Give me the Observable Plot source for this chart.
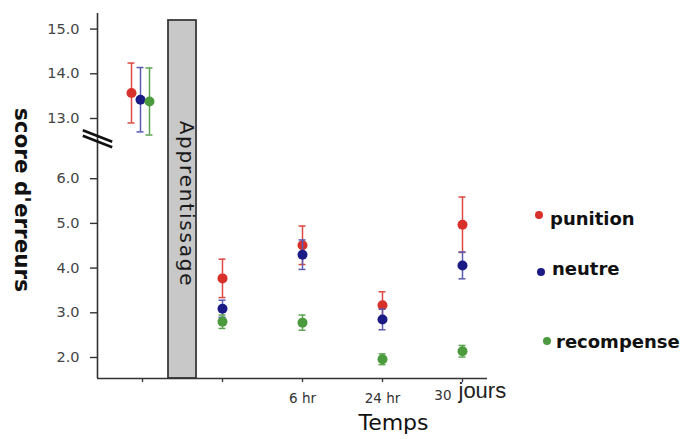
<!DOCTYPE html>
<html><head><meta charset="utf-8">
<script src="https://cdn.jsdelivr.net/npm/d3@7"></script>
<script src="https://cdn.jsdelivr.net/npm/@observablehq/plot@0.6"></script>
<style>
body{margin:0;background:#fff;}
#wrap{position:relative;width:699px;height:439px;overflow:hidden;}
#wrap svg{position:absolute;left:0;top:0;}
.lt{position:absolute;font:bold 18px "DejaVu Sans";line-height:18px;color:#111;white-space:nowrap;}
.ld{position:absolute;width:8px;height:8px;border-radius:50%;}
</style></head><body><div id="wrap"></div>
<script>
// ---- data ----
const groups = ["avant", "0 hr", "6 hr", "24 hr", "30 jours"];
const xTickLabels = ["", "", "6 hr", "24 hr", "30 jours"];
const seriesNames = ["punition", "neutre", "recompense"];
const punition = [13.57, 3.77, 4.51, 3.17, 4.97];
const punitionErr = [0.67, 0.43, 0.43, 0.30, 0.62];
const neutre = [13.42, 3.09, 4.30, 2.85, 4.06];
const neutreErr = [0.72, 0.19, 0.33, 0.23, 0.30];
const recompense = [13.38, 2.80, 2.78, 1.96, 2.14];
const recompenseErr = [0.75, 0.15, 0.17, 0.12, 0.13];
const yTicks = [2, 3, 4, 5, 6, 13, 14, 15];
const phaseLabel = "Apprentissage";
const yLabel = "score d'erreurs";
const xLabel = "Temps";
const colors = ["#d8302a", "#1b1b86", "#4b9a3e"];
const barColors = ["#dc4a42", "#5a5ab0", "#5da552"];

// broken axis: values above the break are shifted down
const breakShift = 5.653;
const disp = v => v >= 10 ? v - breakShift : v;
const undisp = d => d > 7 ? d + breakShift : d;

const values = [punition, neutre, recompense];
const errs = [punitionErr, neutreErr, recompenseErr];
const rows = seriesNames.map((s, k) => groups.map((g, i) => ({
  serie: s, k, gi: i, v: values[k][i], err: errs[k][i],
  y: disp(values[k][i]), lo: disp(values[k][i] - errs[k][i]), hi: disp(values[k][i] + errs[k][i])
})));

const xDomain = [-0.5625, 4.3125];
const yDomain = [1.53, 9.696];
const dodge = [-11, -2, 7];

const seriesMarks = [];
rows.forEach((rs, k) => {
  const parts = [[rs.filter(d => d.gi === 0), dodge[k]], [rs.filter(d => d.gi > 0), 0]];
  for (const [data, dx] of parts) {
    seriesMarks.push(
      Plot.ruleX(data, {x: "gi", y1: "lo", y2: "hi", stroke: barColors[k], strokeWidth: 1.5, dx}),
      Plot.ruleY(data, {y: "hi", x1: "gi", x2: "gi", insetLeft: -3.5, insetRight: -3.5, stroke: barColors[k], strokeWidth: 1.5, dx}),
      Plot.ruleY(data, {y: "lo", x1: "gi", x2: "gi", insetLeft: -3.5, insetRight: -3.5, stroke: barColors[k], strokeWidth: 1.5, dx}),
      Plot.dot(data, {x: "gi", y: "y", r: 5, fill: colors[k], stroke: "none", dx})
    );
  }
});

// break symbol "//" on the y axis
const breakY = 6.894;
const breakMarks = [-2.8, 2.8].map(off => Plot.link([breakY], {
  x1: xDomain[0] - 0.184, x2: xDomain[0] + 0.184, y1: d => d + 0.129, y2: d => d - 0.129,
  dy: off, stroke: "#111", strokeWidth: 2.6
}));

const plot = Plot.plot({
  width: 699, height: 439,
  marginLeft: 97, marginRight: 212, marginTop: 13, marginBottom: 61,
  style: {fontFamily: "DejaVu Sans", background: "white", overflow: "visible"},
  x: {domain: xDomain},
  y: {domain: yDomain},
  marks: [
    Plot.rect([phaseLabel], {x1: 0, x2: 1, y1: yDomain[0], y2: yDomain[1], insetLeft: 26, insetRight: 26, insetTop: 7,
      fill: "#c8c8c8", stroke: "#3a3a3a", strokeWidth: 1.8}),
    Plot.text([phaseLabel], {x: 0.5, frameAnchor: "middle", rotate: 90, dx: 4, dy: 8, fontSize: 20, fill: "#1a1a1a"}),
    Plot.ruleX([xDomain[0]], {stroke: "#333", strokeWidth: 1.6}),
    Plot.ruleY([yDomain[0]], {stroke: "#333", strokeWidth: 1.6}),
    Plot.axisY({ticks: yTicks.map(disp), tickFormat: d => undisp(d).toFixed(1), tickSize: 7, tickPadding: 11,
      fontSize: 14.5, fill: "#444", stroke: "#333", strokeWidth: 1.4, label: null}),
    Plot.axisX({ticks: [0, 1, 2, 3, 4], tickFormat: i => i === 4 ? "" : xTickLabels[i], tickSize: 4, tickPadding: 11,
      fontSize: 13.5, fill: "#333", stroke: "#333", strokeWidth: 1.3, label: null}),
    Plot.text([xTickLabels[4]], {x: 4, frameAnchor: "bottom", text: d => d.split(" ")[0], textAnchor: "end", dx: -11, dy: 21,
      fontSize: 13.5, fill: "#333"}),
    Plot.text([xTickLabels[4]], {x: 4, frameAnchor: "bottom", text: d => d.split(" ")[1], textAnchor: "start", dx: -4, dy: 19,
      fontSize: 22, fontFamily: "Liberation Sans", fill: "#222"}),
    ...breakMarks,
    ...seriesMarks,
    Plot.text([xLabel], {frameAnchor: "bottom", dx: 101, dy: 51, fontSize: 22, fill: "#111"}),
    Plot.text([yLabel], {frameAnchor: "left", textAnchor: "middle", rotate: 90, dx: -76, dy: 4, fontSize: 21.5, fontWeight: "bold", fill: "#111"})
  ]
});

d3.select(plot).selectAll("text").filter(function() { return this.textContent === phaseLabel; })
  .attr("letter-spacing", 1.8);

const wrap = document.getElementById("wrap");
wrap.appendChild(plot);

// legend (HTML overlay)
const legendItems = [
  {dot: [535, 211], text: [550, 210]},
  {dot: [537, 268], text: [552, 260]},
  {dot: [543, 337], text: [556, 333]}
];
seriesNames.forEach((s, k) => {
  const dot = document.createElement("div");
  dot.className = "ld";
  dot.style.left = legendItems[k].dot[0] + "px";
  dot.style.top = legendItems[k].dot[1] + "px";
  dot.style.background = colors[k];
  wrap.appendChild(dot);
  const t = document.createElement("div");
  t.className = "lt";
  t.style.left = legendItems[k].text[0] + "px";
  t.style.top = legendItems[k].text[1] + "px";
  t.textContent = s;
  wrap.appendChild(t);
});
</script></body></html>
